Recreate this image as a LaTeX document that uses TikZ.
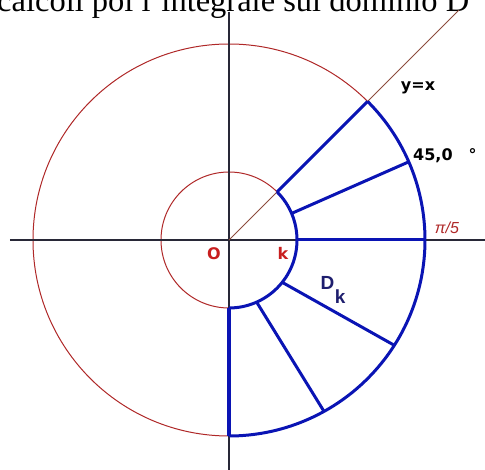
\documentclass[tikz,border=0pt]{standalone}
\usepackage{fontspec}
\setmainfont{Liberation Serif}
\newfontfamily\labfont{Liberation Sans}
\newfontfamily\pixfont{DejaVu Sans}
\usetikzlibrary{positioning}
\definecolor{circred}{RGB}{175,40,40}
\definecolor{labred}{RGB}{200,30,30}
\definecolor{axisgray}{RGB}{40,40,55}
\definecolor{bisecbrown}{RGB}{140,75,60}
\definecolor{domblue}{RGB}{10,20,180}
\definecolor{dknavy}{RGB}{30,30,110}
\begin{document}
\begin{tikzpicture}[x=1pt,y=1pt,
  circ/.style={draw=circred, line width=1pt},
  axis/.style={draw=axisgray, line width=1.2pt},
  bisec/.style={draw=bisecbrown, line width=0.9pt},
  dom/.style={draw=domblue, line width=3pt, line join=round},
  lab/.style={inner sep=0pt, font=\pixfont\bfseries\fontsize{16}{18}\selectfont},
  redlab/.style={lab, text=labred},
  dklab/.style={inner sep=0pt, text=dknavy, font=\labfont\bfseries\fontsize{19}{21}\selectfont}]
\useasboundingbox (-229,-230) rectangle (256,240);
\node[anchor=base west, inner sep=0pt, font=\fontsize{32.5}{38}\selectfont] (title) at (-232,228) {calcoli poi l'integrale sul dominio D};
% cerchi
\draw[circ] (0,0) circle (68);
\draw[circ] (0,0) circle (196);
% assi e bisettrice
\draw[axis] (-219,0) -- (256,0);
\draw[axis] (0,228) -- (0,-230);
\draw[bisec] (0,0) -- (45:325);
% dominio
\draw[dom] (45:68) arc (45:-90:68);
\draw[dom] (45:196) arc (45:-90:196);
\draw[dom] (45:68) -- (45:196);
\draw[dom] (23:68) -- (23.5:196);
\draw[dom] (0:68) -- (0:196);
\draw[dom] (-38.5:68) -- (-32.5:196);
\draw[dom] (-66:68) -- (-61:196);
\draw[dom, line width=4pt] (-90:68) -- (-90:196);
% etichette
\node[lab] (yx) at (189,152) {y=x};
\node[lab, anchor=west] (ang) at (184,84) {45,0\hspace{16pt}°};
\node[inner sep=0pt, text=circred, font=\labfont\itshape\fontsize{16}{18}\selectfont] (pi5) at (218,12) {π/5};
\node[redlab] (o) at (-15,-14) {O};
\node[redlab] (k) at (54,-13) {k};
\node[dklab] (dd) at (98.5,-42.5) {D};
\node[dklab, anchor=north west] (dsub) at (dd.south east) {k};
\end{tikzpicture}
\end{document}
